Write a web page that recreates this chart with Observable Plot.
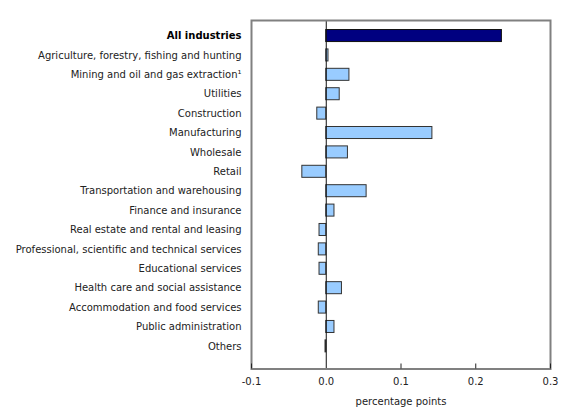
<!DOCTYPE html>
<html>
<head>
<meta charset="utf-8">
<script src="https://cdn.jsdelivr.net/npm/d3@7"></script>
<script src="https://cdn.jsdelivr.net/npm/@observablehq/plot@0.6"></script>
<style>
  html, body { margin: 0; padding: 0; background: #fff; }
  #chart svg { display: block; }
</style>
</head>
<body>
<div id="chart"></div>
<script>
const industries = [
  "All industries",
  "Agriculture, forestry, fishing and hunting",
  "Mining and oil and gas extraction\u00B9",
  "Utilities",
  "Construction",
  "Manufacturing",
  "Wholesale",
  "Retail",
  "Transportation and warehousing",
  "Finance and insurance",
  "Real estate and rental and leasing",
  "Professional, scientific and technical services",
  "Educational services",
  "Health care and social assistance",
  "Accommodation and food services",
  "Public administration",
  "Others"
];
const values = [0.235, 0.003, 0.031, 0.018, -0.012, 0.142, 0.029, -0.032, 0.054, 0.011, -0.009, -0.010, -0.009, 0.021, -0.010, 0.011, -0.001];
const xTicks = [-0.1, 0.0, 0.1, 0.2, 0.3];
const innerTicks = [-0.1, 0.1, 0.2, 0.3];
const xLabel = "percentage points";

const data = industries.map((d, i) => ({industry: d, value: values[i], total: i === 0}));
const frameH = 410 - 20 - 41.5;

const chart = Plot.plot({
  width: 580,
  height: 410,
  marginLeft: 251,
  marginRight: 30,
  marginTop: 20,
  marginBottom: 41.5,
  style: {fontFamily: "DejaVu Sans, Verdana, sans-serif", fontSize: "10px", color: "#222"},
  x: {domain: [-0.1, 0.3]},
  y: {domain: industries, round: false, paddingInner: 0.38, paddingOuter: 0.3, insetTop: 3.7, insetBottom: 10.8},
  marks: [
    Plot.barX(data.filter(d => !d.total), {x: "value", y: "industry", fill: "#99ccff", stroke: "#333", strokeWidth: 1}),
    Plot.barX(data.filter(d => d.total), {x: "value", y: "industry", fill: "#000080", stroke: "#111", strokeWidth: 1}),
    Plot.ruleX([0], {stroke: "#111", strokeWidth: 1}),
    Plot.frame({stroke: "#808080", strokeWidth: 2}),
    Plot.ruleX(innerTicks, {stroke: "#222", strokeWidth: 1, insetTop: frameH - 5}),
    Plot.axisX({ticks: xTicks, tickFormat: d => d.toFixed(1), tickSize: 0, tickPadding: 9, label: xLabel, labelAnchor: "center", labelArrow: "none", labelOffset: 36, fill: "#222"}),
    Plot.axisY({ticks: [], label: null, tickSize: 0}),
    Plot.text(data.filter(d => !d.total), {y: "industry", x: () => -0.1, text: "industry", textAnchor: "end", dx: -10, fill: "#222"}),
    Plot.text(data.filter(d => d.total), {y: "industry", x: () => -0.1, text: "industry", textAnchor: "end", dx: -10, fill: "#000", fontWeight: "bold"})
  ]
});
document.getElementById("chart").appendChild(chart);
</script>
</body>
</html>
